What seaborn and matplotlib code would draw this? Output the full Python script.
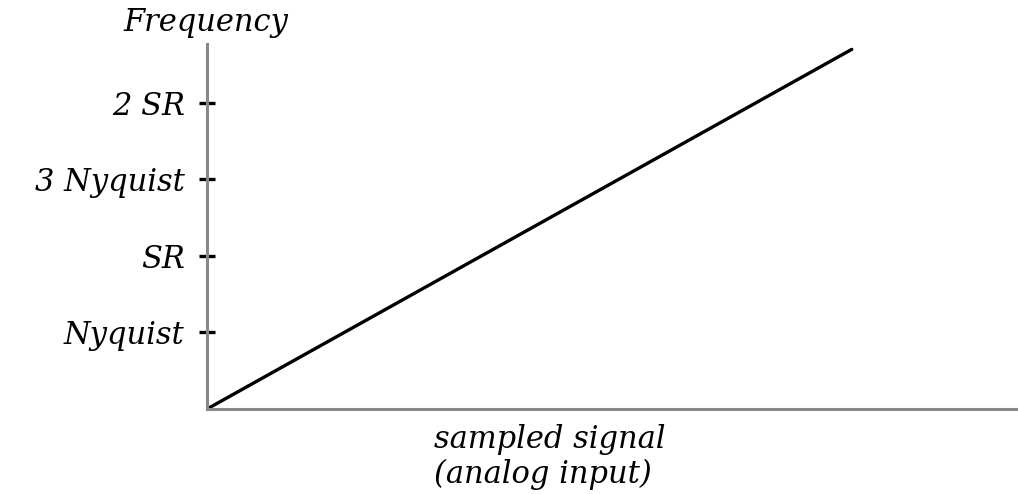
import matplotlib
matplotlib.use("Agg")
import matplotlib.pyplot as plt
import seaborn as sns
import pandas as pd

# Data
signal = [0.0, 7.95]
frequency = [0.0, 4.7]
tick_values = [1, 2, 3, 4]
tick_labels = ["Nyquist", "SR", "3 Nyquist", "2 SR"]

sns.set_style("white")
plt.rcParams['font.family'] = ['DejaVu Serif', 'Liberation Serif']
plt.rcParams['font.style'] = 'italic'
plt.rcParams['text.color'] = 'black'
plt.rcParams['ytick.color'] = 'black'

FS = 22

fig = plt.figure(figsize=(10.18, 4.94), dpi=100)
W, H = 1018, 494
x0, y0, x1, y1 = 207, 409, 1018, 44
ax = fig.add_axes([x0 / W, (H - y0) / H, (x1 - x0) / W, (y0 - y1) / H])

df = pd.DataFrame({"signal": signal, "frequency": frequency})
sns.lineplot(data=df, x="signal", y="frequency", ax=ax, color="black", linewidth=2.4)

ax.set_xlim(0, 10)
ax.set_ylim(0, 4.77)
ax.set_xlabel("")
ax.set_ylabel("")
ax.set_xticks([])
ax.set_yticks(tick_values)
ax.set_yticklabels(tick_labels, fontsize=FS, style='italic', color='black')
ax.tick_params(axis='y', direction='inout', length=12, width=2.4, color='black', pad=10, left=True)

for s in ["top", "right"]:
    ax.spines[s].set_visible(False)
for s in ["left", "bottom"]:
    ax.spines[s].set_color("#888888")
    ax.spines[s].set_linewidth(2.2)

fig.text(206 / W, 1 - 23 / H, "Frequency", ha='center', va='center', fontsize=FS, style='italic')
fig.text(434 / W, 1 - 424 / H, "sampled signal\n(analog input)", ha='left', va='top',
         fontsize=FS, style='italic', linespacing=1.15)

fig.savefig("out.png", dpi=100, facecolor="white")
